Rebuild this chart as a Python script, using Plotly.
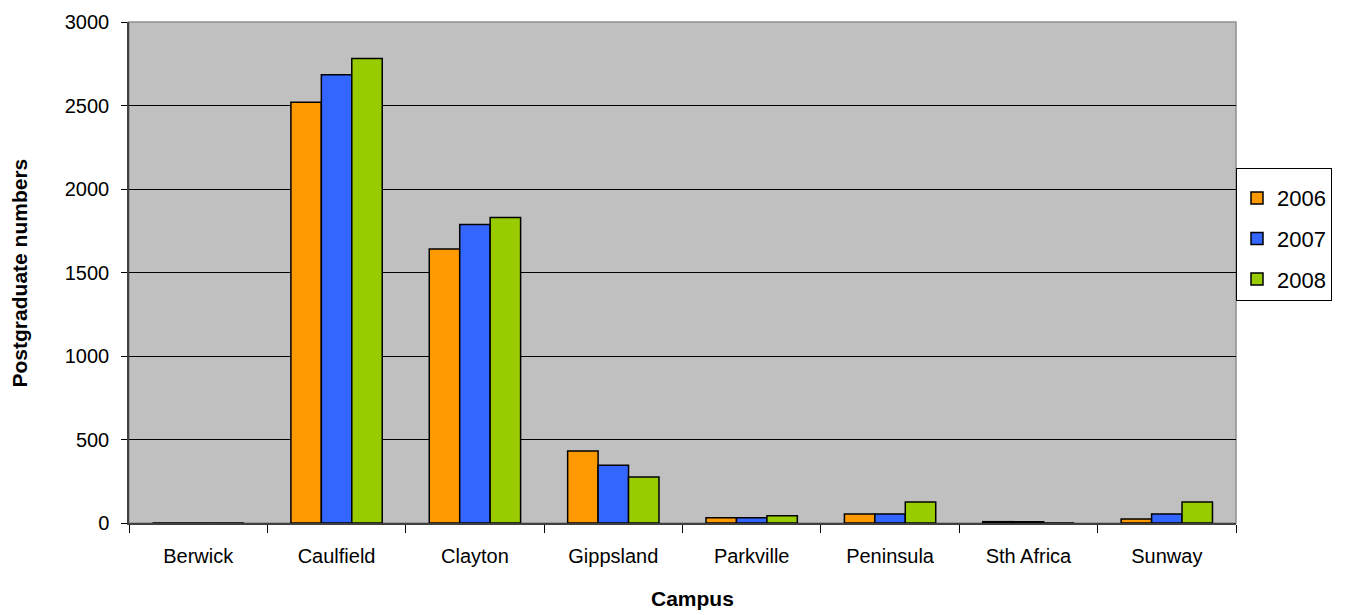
import plotly.graph_objects as go

campuses = ["Berwick", "Caulfield", "Clayton", "Gippsland", "Parkville", "Peninsula", "Sth Africa", "Sunway"]
years = ["2006", "2007", "2008"]
v2006 = [0, 2519, 1640, 431, 32, 54, 8, 24]
v2007 = [0, 2684, 1788, 346, 32, 54, 8, 54]
v2008 = [0, 2782, 1829, 276, 44, 126, 0, 126]
series = [v2006, v2007, v2008]
colors = ["#FF9900", "#3366FF", "#99CC00"]

fig = go.Figure()
for i, (yr, vals) in enumerate(zip(years, series)):
    fig.add_trace(go.Bar(
        x=campuses, y=vals, name=yr, legendgroup=yr,
        marker=dict(color=colors[i], line=dict(color="black", width=1.5)),
    ))

font_family = "Liberation Sans, Arial, sans-serif"
# page body has an 8px margin; figure is sized/offset to compensate
fig.update_layout(
    width=1338, height=607,
    margin=dict(l=121, r=110, t=14, b=92, autoexpand=False),
    paper_bgcolor="white", plot_bgcolor="#C0C0C0",
    barmode="group", bargap=0.34, bargroupgap=0,
    font=dict(family=font_family, size=20, color="black"),
    showlegend=True,
    legend=dict(
        x=1.0, xanchor="left", y=0.708, yanchor="top",
        bordercolor="black", borderwidth=1, bgcolor="white",
        font=dict(size=22), traceorder="grouped", tracegroupgap=9,
        title=dict(text=" ", font=dict(size=6)),
    ),
    xaxis=dict(
        tickson="boundaries", ticks="outside", ticklen=8, tickcolor="black",
        ticklabelstandoff=14, automargin=False,
        showline=True, linecolor="#404040", linewidth=1.5, mirror=False,
        showgrid=False,
    ),
    yaxis=dict(
        range=[0, 3000], dtick=500, ticks="outside", ticklen=6, tickcolor="black",
        ticklabelstandoff=8, automargin=False,
        showline=True, linecolor="#404040", linewidth=1.5,
        showgrid=True, gridcolor="black", gridwidth=1, zeroline=False,
    ),
    annotations=[
        dict(text="<b>Campus</b>", xref="paper", yref="paper", x=0.5086, y=-0.150,
             showarrow=False, font=dict(size=21), xanchor="center", yanchor="middle"),
        dict(text="<b>Postgraduate numbers</b>", xref="paper", yref="paper", x=-0.0985, y=0.5,
             showarrow=False, font=dict(size=21), textangle=-90, xanchor="center", yanchor="middle"),
    ],
)
fig.add_shape(type="rect", xref="paper", yref="paper", x0=0, x1=1, y0=0, y1=1,
              line=dict(color="#909090", width=1.5), layer="below")
fig.write_html("out.html")
